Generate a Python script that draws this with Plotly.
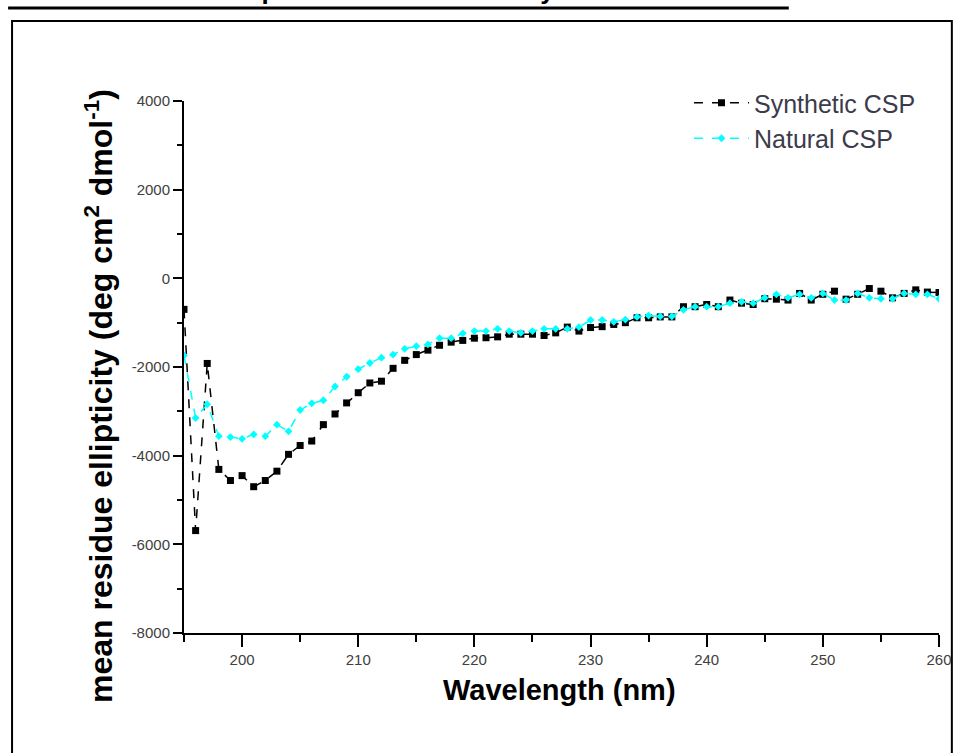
import plotly.graph_objects as go

wavelength = list(range(195, 261))

synthetic_csp = [
    -700, -5690, -1920, -4310, -4560, -4450, -4700, -4560, -4350, -3970,
    -3770, -3670, -3300, -3060, -2810, -2580, -2360, -2320, -2030, -1850,
    -1720, -1620, -1510, -1440, -1400, -1350, -1340, -1320, -1260, -1260,
    -1260, -1290, -1230, -1100, -1190, -1110, -1090, -1040, -1000, -890,
    -890, -870, -870, -640, -640, -590, -640, -490, -560, -590,
    -460, -470, -490, -340, -490, -360, -290, -470, -360, -230,
    -290, -440, -340, -260, -310, -320,
]

natural_csp = [
    -1740, -3150, -2840, -3560, -3580, -3620, -3520, -3560, -3300, -3450,
    -2970, -2820, -2750, -2440, -2220, -2050, -1910, -1790, -1720, -1590,
    -1530, -1490, -1350, -1350, -1240, -1190, -1190, -1140, -1190, -1230,
    -1190, -1140, -1140, -1140, -1100, -940, -940, -980, -930, -870,
    -840, -860, -860, -710, -640, -640, -640, -560, -530, -560,
    -440, -360, -440, -360, -440, -340, -490, -490, -340, -440,
    -460, -460, -340, -360, -360, -460,
]

y_tick_values = [-8000, -6000, -4000, -2000, 0, 2000, 4000]
y_tick_labels = ["-8000", "-6000", "-4000", "-2000", "0", "2000", "4000"]
x_tick_values = [200, 210, 220, 230, 240, 250, 260]
x_tick_labels = ["200", "210", "220", "230", "240", "250", "260"]

W, H = 964, 753
L, R, T, B = 184, 16, 101, 120
PW, PH = W - L - R, H - T - B


def xp(px):
    return (px - L) / PW


def yp(py):
    return (H - B - py) / PH


fig = go.Figure()
fig.add_trace(go.Scatter(
    x=wavelength, y=synthetic_csp, name="Synthetic CSP",
    mode="lines+markers",
    line=dict(color="black", width=1.5, dash="dash"),
    marker=dict(symbol="square", size=7, color="black"),
))
fig.add_trace(go.Scatter(
    x=wavelength, y=natural_csp, name="Natural CSP",
    mode="lines+markers",
    line=dict(color="#00FFFF", width=1.5, dash="dash"),
    marker=dict(symbol="diamond", size=6, color="#00FFFF"),
))

axis_font = dict(family="Liberation Sans, Arial", size=15, color="#404040")
fig.update_xaxes(
    range=[195, 260], tickvals=x_tick_values, ticktext=x_tick_labels,
    showgrid=False, zeroline=False,
    showline=True, linecolor="black", linewidth=2,
    ticks="outside", ticklen=12, tickwidth=2, tickcolor="black",
    minor=dict(dtick=5, tick0=195, ticks="outside", ticklen=7, tickwidth=2, tickcolor="black", showgrid=False),
    tickfont=axis_font,
)
fig.update_yaxes(
    range=[-8000, 4000], tickvals=y_tick_values, ticktext=y_tick_labels,
    showgrid=False, zeroline=False,
    showline=True, linecolor="black", linewidth=2,
    ticks="outside", ticklen=9, tickwidth=2, tickcolor="black",
    minor=dict(dtick=1000, tick0=0, ticks="outside", ticklen=5, tickwidth=2, tickcolor="black", showgrid=False),
    tickfont=axis_font,
)

title_font = dict(family="Liberation Sans, Arial", color="black")
fig.update_layout(
    width=W, height=H,
    margin=dict(l=L, r=R, t=T, b=B),
    paper_bgcolor="white", plot_bgcolor="white",
    showlegend=True,
    legend=dict(x=xp(695), y=yp(80), xanchor="left", yanchor="top",
                bgcolor="rgba(0,0,0,0)", itemwidth=55,
                font=dict(family="Liberation Sans, Arial", size=25, color="#3c3b4a"),
                tracegroupgap=0),
    shapes=[
        dict(type="rect", xref="paper", yref="paper",
             x0=xp(10), x1=xp(961), y0=yp(770), y1=yp(21),
             line=dict(color="black", width=2), fillcolor="rgba(0,0,0,0)", layer="below"),
        dict(type="line", xref="paper", yref="paper",
             x0=xp(6), x1=xp(796), y0=yp(8), y1=yp(8),
             line=dict(color="black", width=3)),
    ],
    annotations=[
        dict(text="<b>Circular dichroism spectra of natural and synthetic CSP</b>",
             xref="paper", yref="paper", x=xp(6), y=yp(7), xanchor="left", yanchor="bottom",
             showarrow=False, font=dict(size=26, **title_font)),
        dict(text="<b>Wavelength (nm)</b>",
             xref="paper", yref="paper", x=xp(564), y=yp(690), xanchor="center", yanchor="middle",
             showarrow=False, font=dict(size=29, **title_font)),
        dict(text="<b>mean residue ellipticity (deg cm<sup>2</sup> dmol<sup>-1</sup>)</b>",
             xref="paper", yref="paper", x=xp(98), y=yp(396), xanchor="center", yanchor="middle",
             textangle=-90, showarrow=False, font=dict(size=32, **title_font)),
    ],
)

fig.write_html("out.html")
